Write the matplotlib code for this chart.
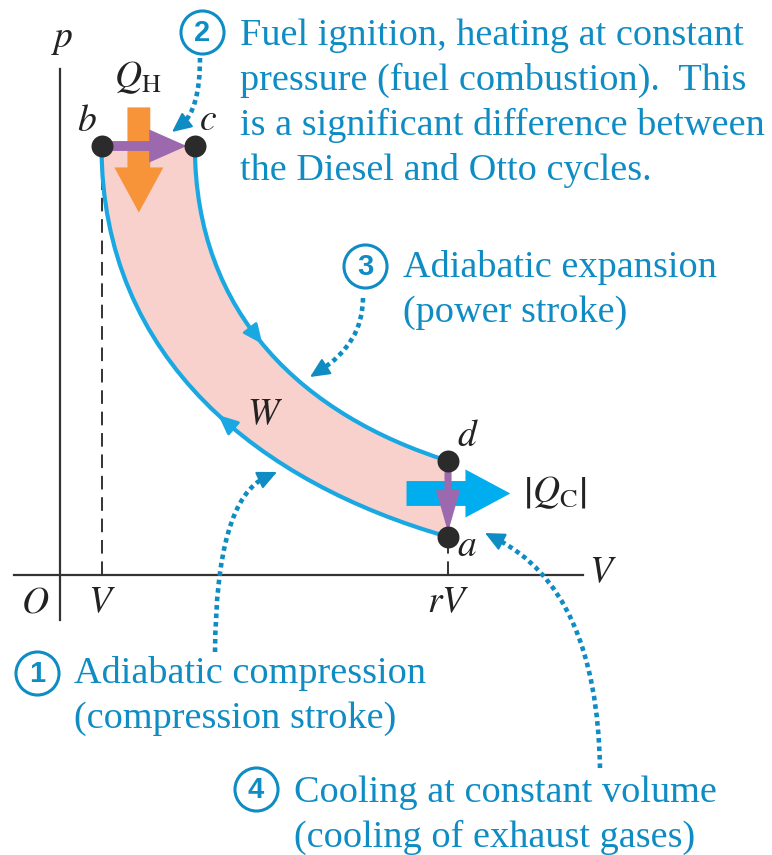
import numpy as np
import matplotlib.pyplot as plt
from matplotlib.path import Path
from matplotlib.patches import PathPatch

plt.rcParams['mathtext.fontset'] = 'stix'
plt.rcParams['font.family'] = ['Liberation Serif', 'DejaVu Serif']

# Diesel cycle states (V in units of the smallest volume, p arbitrary units)
state_names = ['a', 'b', 'c', 'd']
state_V = [9.35, 1.0, 3.25, 9.35]
state_p = [0.89, 10.0, 10.0, 2.66]

# V axis tick labels
tick_labels = ['$V$', '$rV$']

# numbered steps of the cycle
step_numbers = ['1', '2', '3', '4']
step_texts = [
    ['Adiabatic compression', '(compression stroke)'],
    ['Fuel ignition, heating at constant',
     'pressure (fuel combustion).  This',
     'is a significant difference between',
     'the Diesel and Otto cycles.'],
    ['Adiabatic expansion', '(power stroke)'],
    ['Cooling at constant volume', '(cooling of exhaust gases)'],
]

TEXT_BLUE = '#0e8cc3'
CURVE_BLUE = '#1aa8e2'
PINK = '#f8d0cc'
PURPLE = '#9c69ae'
ORANGE = '#f7943a'
CYAN = '#00aeef'
DARK = '#333333'

# pixel <-> data helper (for placing text and pointers only)
OX, OY, SX, SY = 60, 575, 41.5, 42.9
W_PX, H_PX = 772, 855


def px(x, y):
    return (x - OX) / SX, (OY - y) / SY


fig = plt.figure(figsize=(W_PX / 100, H_PX / 100), dpi=100)
ax = fig.add_axes([0, 0, 1, 1])
ax.set_xlim(px(0, 0)[0], px(W_PX, 0)[0])
ax.set_ylim(px(0, H_PX)[1], px(0, 0)[1])
ax.axis('off')

Va, Vb, Vc, Vd = state_V
pa, pb, pc, pd = state_p

# schematic adiabats as cubic curves through the states
comp = np.array([(Vb, pb), (Vb, pb - 5.0), (Va - 4.5, pa + 1.24), (Va, pa)])
expn = np.array([(Vc, pc), (Vc, pc - 3.96), (Vd - 3.45, pd + 1.05), (Vd, pd)])


def bez(P, t):
    return ((1 - t) ** 3) * P[0] + 3 * (1 - t) ** 2 * t * P[1] \
        + 3 * (1 - t) * t ** 2 * P[2] + t ** 3 * P[3]


# axes
ax.plot([px(14, 0)[0], px(583, 0)[0]], [0, 0], color=DARK, lw=1.6, zorder=1)
ax.plot([0, 0], [px(0, 620)[1], px(0, 69)[1]], color=DARK, lw=1.6, zorder=1)
ax.plot([Vb, Vb], [0, pb], color=DARK, lw=1.4, ls=(0, (7, 4)), zorder=1)
ax.plot([Va, Va], [0, pa], color=DARK, lw=1.4, ls=(0, (7, 4)), zorder=1)

# enclosed area
verts = [comp[0], expn[0], expn[1], expn[2], expn[3], comp[3],
         comp[2], comp[1], comp[0], comp[0]]
codes = [Path.MOVETO, Path.LINETO, Path.CURVE4, Path.CURVE4, Path.CURVE4,
         Path.LINETO, Path.CURVE4, Path.CURVE4, Path.CURVE4, Path.CLOSEPOLY]
ax.add_patch(PathPatch(Path(verts, codes), facecolor=PINK, edgecolor='none', zorder=2))

c4 = [Path.MOVETO, Path.CURVE4, Path.CURVE4, Path.CURVE4]
for P in (comp, expn):
    ax.add_patch(PathPatch(Path(P, c4), facecolor='none', edgecolor=CURVE_BLUE,
                           lw=3, zorder=3, capstyle='round'))

# direction arrows on the adiabats
for P, t0, t1 in ((expn, 0.43, 0.48), (comp, 0.58, 0.535)):
    ax.annotate('', xy=bez(P, t1), xytext=bez(P, t0),
                arrowprops=dict(arrowstyle='-|>,head_length=0.6,head_width=0.27',
                                mutation_scale=20, color=CURVE_BLUE, lw=2,
                                shrinkA=0, shrinkB=0), zorder=3)

# heat flow arrows
xq = Vb + 0.4 * (Vc - Vb)
ax.arrow(xq, pb + 0.9, 0, -2.45, width=0.55, head_width=1.18, head_length=1.05,
         length_includes_head=True, fc=ORANGE, ec='none', zorder=4)
ax.arrow(Va - 1.0, pa + 1.01, 2.5, 0, width=0.58, head_width=1.12, head_length=1.08,
         length_includes_head=True, fc=CYAN, ec='none', zorder=4)

# purple process arrows b->c and d->a
ax.arrow(Vb, pb, (Vc - 0.2) - Vb, 0, width=0.23, head_width=0.77, head_length=0.9,
         length_includes_head=True, fc=PURPLE, ec='none', zorder=5)
ax.arrow(Vd, pd, 0, (pa + 0.11) - pd, width=0.17, head_width=0.58, head_length=0.98,
         length_includes_head=True, fc=PURPLE, ec='none', zorder=5)

# state points
ax.scatter(state_V, state_p, s=250, color='#2b2b2b', lw=0, zorder=6)
offsets = {'a': (19, -10), 'b': (-15, 24), 'c': (13, 25), 'd': (20, 24)}
for name, v, p in zip(state_names, state_V, state_p):
    ax.annotate('$%s$' % name, xy=(v, p), xytext=offsets[name], textcoords='offset pixels',
                ha='center', va='center', fontsize=27, color='#222222', zorder=7)

# axis labels
lab = dict(fontsize=27, color='#222222', ha='center', va='center')
ax.text(*px(62, 40), '$p$', **lab)
ax.text(*px(603, 573), '$V$', **lab)
ax.text(*px(35, 603), '$O$', **lab)
for v, t in zip([Vb, Va], tick_labels):
    ax.text(v, px(0, 603)[1], t, **lab)
ax.text(*px(265, 415), '$W$', **lab)
ax.text(*px(138, 78), r'$Q_{\mathrm{H}}$', **lab)
ax.text(*px(555, 493), r'$\left|Q_{\mathrm{C}}\right|$', **lab)

# step descriptions with circled numbers
circles = [(37, 673), (202, 32), (365, 266), (256, 789)]
text_pos = [(74, 683), (240, 45), (403, 277), (294, 802)]
for num, lines, (cx, cy), (tx, ty) in zip(step_numbers, step_texts, circles, text_pos):
    ax.plot(*px(cx, cy), 'o', ms=31, mfc='white', mec=TEXT_BLUE, mew=2.2, zorder=8)
    ax.text(*px(cx, cy + 1), num, family='Liberation Sans', weight='bold', fontsize=21,
            color=TEXT_BLUE, ha='center', va='center', zorder=9)
    for i, line in enumerate(lines):
        ax.text(*px(tx, ty + 45 * i), line, fontsize=27.5, color=TEXT_BLUE,
                ha='left', va='baseline', zorder=9)

# dotted pointers from the descriptions to the cycle: start, tip, bend point
pointers = [((215, 652), (277, 472), (216, 500)),
            ((200, 58), (172, 132), (200, 110)),
            ((363, 298), (310, 377), (363, 343)),
            ((600, 768), (485, 533), (597, 590))]
for s, e, c in pointers:
    s, e, c = np.array(s, float), np.array(e, float), np.array(c, float)
    u = (c - e) / np.hypot(*(c - e))
    back = e + 12 * u
    pts = [px(*s), px(*c), px(*back)]
    ax.add_patch(PathPatch(Path(pts, [Path.MOVETO, Path.CURVE3, Path.CURVE3]),
                           facecolor='none', edgecolor=TEXT_BLUE, lw=3.3,
                           ls=(0, (1, 0.85)), capstyle='butt', zorder=7))
    ax.annotate('', xy=px(*e), xytext=px(*back),
                arrowprops=dict(arrowstyle='-|>,head_length=0.6,head_width=0.28',
                                mutation_scale=20, color=TEXT_BLUE, lw=1.5,
                                shrinkA=0, shrinkB=0), zorder=7)

fig.savefig('out.png', dpi=100, facecolor='white')
